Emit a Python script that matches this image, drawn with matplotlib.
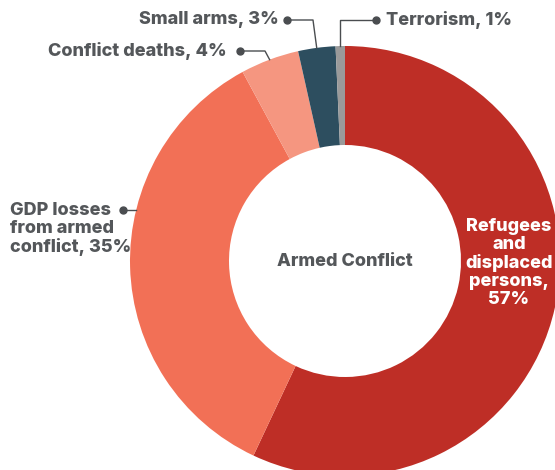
#!/usr/bin/env python3

import numpy as np
import matplotlib
matplotlib.use("Agg")
import matplotlib.pyplot as plt

W, H = 555, 470  # px
CX, CY = 345, 261  # donut centre (px, from top)
R_OUT = 215
R_IN = 116

TEXT_GREY = "#54575a"
LINE_GREY = "#4a4d50"

categories = ["Refugees and displaced persons", "GDP losses from armed conflict",
              "Conflict deaths", "Small arms", "Terrorism"]
shares = [57.0, 35.1, 4.4, 2.8, 0.7]
label_pct = [57, 35, 4, 3, 1]
colors = ["#be2e26", "#f27056", "#f59680", "#2d4e5f", "#9a9a9a"]

plt.rcParams["font.family"] = ["Inter", "DejaVu Sans"]
WEIGHT = 800


def fy(y):
    # pixel y from top -> data y
    return H - y


def edge_point(idx):
    # mid point of a wedge on the outer radius (clockwise from top)
    tot = sum(shares)
    start = sum(shares[:idx]) / tot * 360
    mid = np.radians(start + shares[idx] / tot * 360 / 2)
    return CX + R_OUT * np.sin(mid), CY - R_OUT * np.cos(mid)


fig = plt.figure(figsize=(W / 100, H / 100), dpi=100)
ax = fig.add_axes([0, 0, 1, 1])

ax.pie(shares, colors=colors, startangle=90, counterclock=False,
       radius=R_OUT, center=(CX, fy(CY)),
       wedgeprops=dict(width=R_OUT - R_IN, linewidth=0))

ax.set_xlim(0, W)
ax.set_ylim(0, H)
ax.set_aspect("auto")
ax.axis("off")

# centre label
ax.text(CX, fy(CY), "Armed Conflict", ha="center", va="center",
        fontsize=13, fontweight=WEIGHT, color=TEXT_GREY)

# refugees label inside the wedge
ax.text(509, fy(263), "Refugees\nand\ndisplaced\npersons,\n%d%%" % label_pct[0],
        ha="center", va="center", fontsize=13, fontweight=WEIGHT,
        color="white", linespacing=1.08)

# leader lines for the small wedges
lbl_kw = dict(fontsize=13, fontweight=WEIGHT, color=TEXT_GREY)

# small arms
ex, ey = edge_point(3)
ax.plot([287, 313, ex], [fy(20), fy(20), fy(ey)], color=LINE_GREY, lw=1)
ax.plot(287, fy(20), "o", color=LINE_GREY, ms=5)
ax.text(279, fy(20), "%s, %d%%" % (categories[3], label_pct[3]),
        ha="right", va="center", **lbl_kw)

# terrorism
ex, ey = edge_point(4)
ax.plot([376, ex, ex], [fy(20), fy(20), fy(ey)], color=LINE_GREY, lw=1)
ax.plot(376, fy(20), "o", color=LINE_GREY, ms=5)
ax.text(386, fy(20), "%s, %d%%" % (categories[4], label_pct[4]),
        ha="left", va="center", **lbl_kw)

# conflict deaths
ex, ey = edge_point(2)
ax.plot([240, 265, ex], [fy(51), fy(51), fy(ey)], color=LINE_GREY, lw=1)
ax.plot(240, fy(51), "o", color=LINE_GREY, ms=5)
ax.text(227, fy(51), "%s, %d%%" % (categories[2], label_pct[2]),
        ha="right", va="center", **lbl_kw)

# gdp losses
gy = 210
gx = CX - np.sqrt(R_OUT ** 2 - (CY - gy) ** 2)
ax.plot([123, gx], [fy(gy), fy(gy)], color=LINE_GREY, lw=1)
ax.plot(123, fy(gy), "o", color=LINE_GREY, ms=5)
ax.text(10, fy(229), "GDP losses\nfrom armed\nconflict, %d%%" % label_pct[1],
        ha="left", va="center", linespacing=1.05, **lbl_kw)

fig.savefig("out.png", dpi=100)
